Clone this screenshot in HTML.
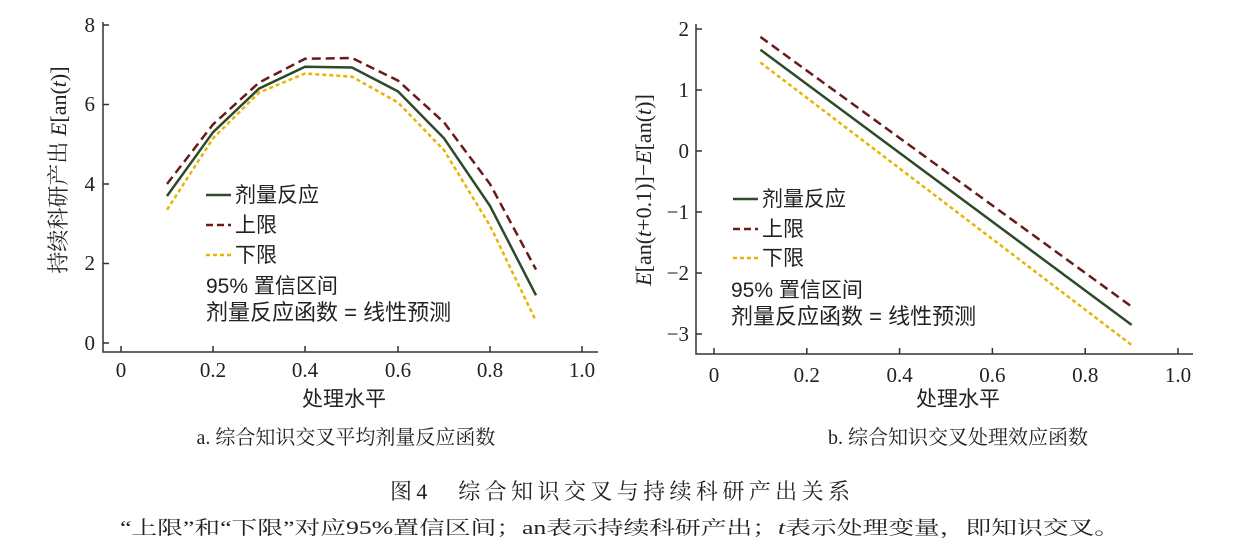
<!DOCTYPE html>
<html><head><meta charset="utf-8"><style>
body{margin:0;background:#fff;}
svg{display:block}
.t{font-family:"Liberation Serif","Noto Serif CJK SC",serif;font-size:21px;fill:#222}
.c{font-family:"Liberation Sans","Noto Sans CJK SC",sans-serif;font-size:21px;fill:#222}
.s{font-family:"Liberation Serif","Noto Serif CJK SC",serif;fill:#222}
</style></head><body>
<svg width="1240" height="559" viewBox="0 0 1240 559">
<!-- Left chart -->
<g stroke="#333" stroke-width="1.5" fill="none">
<path d="M103,22 V352 H598"/>
<path d="M103,25 h6 M103,104.5 h6 M103,184 h6 M103,263.5 h6 M103,343 h6"/>
<path d="M121,352 v-6 M213,352 v-6 M305,352 v-6 M398,352 v-6 M490,352 v-6 M582,352 v-6"/>
</g>
<g class="t" text-anchor="end">
<text x="95" y="32">8</text><text x="95" y="111">6</text><text x="95" y="191">4</text><text x="95" y="270">2</text><text x="95" y="350">0</text>
</g>
<g class="t" text-anchor="middle">
<text x="121" y="377">0</text><text x="213" y="377">0.2</text><text x="305" y="377">0.4</text><text x="398" y="377">0.6</text><text x="490" y="377">0.8</text><text x="582" y="377">1.0</text>
</g>
<polyline fill="none" stroke="#6b1a1a" stroke-width="2.5" stroke-dasharray="9,5" points="167,184 213,124.4 259,82.6 305,58.8 352,58 398,80.6 444,122.4 490,184 536,269.5"/>
<polyline fill="none" stroke="#e8b400" stroke-width="2.5" stroke-dasharray="4,3" points="167,209.8 213,138.3 259,92.6 305,73.5 352,76.7 398,102.5 444,150.2 490,225.7 536,321.1"/>
<polyline fill="none" stroke="#2d4a2a" stroke-width="2.5" points="167,196 213,132.3 259,88.6 305,66.7 352,67.5 398,91.4 444,138.3 490,205.9 536,295.3"/>
<line x1="206" y1="195" x2="231" y2="195" stroke="#2d4a2a" stroke-width="2.5"/>
<line x1="206" y1="225" x2="231" y2="225" stroke="#6b1a1a" stroke-width="2.5" stroke-dasharray="7,4"/>
<line x1="206" y1="255" x2="231" y2="255" stroke="#e8b400" stroke-width="2.5" stroke-dasharray="4,3"/>
<g class="c"><text x="235" y="202">剂量反应</text><text x="235" y="232">上限</text><text x="235" y="262">下限</text>
<text x="206" y="293">95% 置信区间</text><text x="206" y="320" font-size="22">剂量反应函数 = 线性预测</text></g>
<text class="c" x="344" y="406" text-anchor="middle">处理水平</text>
<text class="s" font-size="22" transform="translate(66,170) rotate(-90)" text-anchor="middle">持续科研产出 <tspan font-style="italic">E</tspan>[an(<tspan font-style="italic">t</tspan>)]</text>

<!-- Right chart -->
<g stroke="#333" stroke-width="1.5" fill="none">
<path d="M696,24 V354 H1193"/>
<path d="M696,29 h6 M696,90 h6 M696,151 h6 M696,212 h6 M696,273 h6 M696,334 h6"/>
<path d="M714,354 v-6 M806.8,354 v-6 M899.6,354 v-6 M992.4,354 v-6 M1085.2,354 v-6 M1178,354 v-6"/>
</g>
<g class="t" text-anchor="end">
<text x="689" y="36">2</text><text x="689" y="97">1</text><text x="689" y="158">0</text><text x="689" y="219">−1</text><text x="689" y="280">−2</text><text x="689" y="341">−3</text>
</g>
<g class="t" text-anchor="middle">
<text x="714" y="382">0</text><text x="806.8" y="382">0.2</text><text x="899.6" y="382">0.4</text><text x="992.4" y="382">0.6</text><text x="1085.2" y="382">0.8</text><text x="1178" y="382">1.0</text>
</g>
<line x1="760.4" y1="36.9" x2="1131.6" y2="306.6" stroke="#6b1a1a" stroke-width="2.5" stroke-dasharray="9,5"/>
<line x1="760.4" y1="62.5" x2="1131.6" y2="345" stroke="#e8b400" stroke-width="2.5" stroke-dasharray="4,3"/>
<line x1="760.4" y1="49.7" x2="1131.6" y2="324.9" stroke="#2d4a2a" stroke-width="2.5"/>
<line x1="733" y1="199" x2="758" y2="199" stroke="#2d4a2a" stroke-width="2.5"/>
<line x1="733" y1="229" x2="758" y2="229" stroke="#6b1a1a" stroke-width="2.5" stroke-dasharray="7,4"/>
<line x1="733" y1="258" x2="758" y2="258" stroke="#e8b400" stroke-width="2.5" stroke-dasharray="4,3"/>
<g class="c"><text x="762" y="206">剂量反应</text><text x="762" y="236">上限</text><text x="762" y="265">下限</text>
<text x="731" y="297">95% 置信区间</text><text x="731" y="324" font-size="22">剂量反应函数 = 线性预测</text></g>
<text class="c" x="958" y="406" text-anchor="middle">处理水平</text>
<text class="s" font-size="22" transform="translate(651,190) rotate(-90)" text-anchor="middle"><tspan font-style="italic">E</tspan>[an(<tspan font-style="italic">t</tspan>+0.1)]−<tspan font-style="italic">E</tspan>[an(<tspan font-style="italic">t</tspan>)]</text>

<!-- captions -->
<text class="s" font-size="20" x="346" y="444" text-anchor="middle">a. 综合知识交叉平均剂量反应函数</text>
<text class="s" font-size="20" x="958" y="444" text-anchor="middle">b. 综合知识交叉处理效应函数</text>
<text class="s" font-size="22" x="390" y="499" textLength="460">图4　综合知识交叉与持续科研产出关系</text>
<text class="s" font-size="19" x="120" y="534" textLength="1000" lengthAdjust="spacingAndGlyphs">“上限”和“下限”对应95%置信区间；an表示持续科研产出；<tspan font-style="italic">t</tspan>表示处理变量，即知识交叉。</text>
</svg>
</body></html>
